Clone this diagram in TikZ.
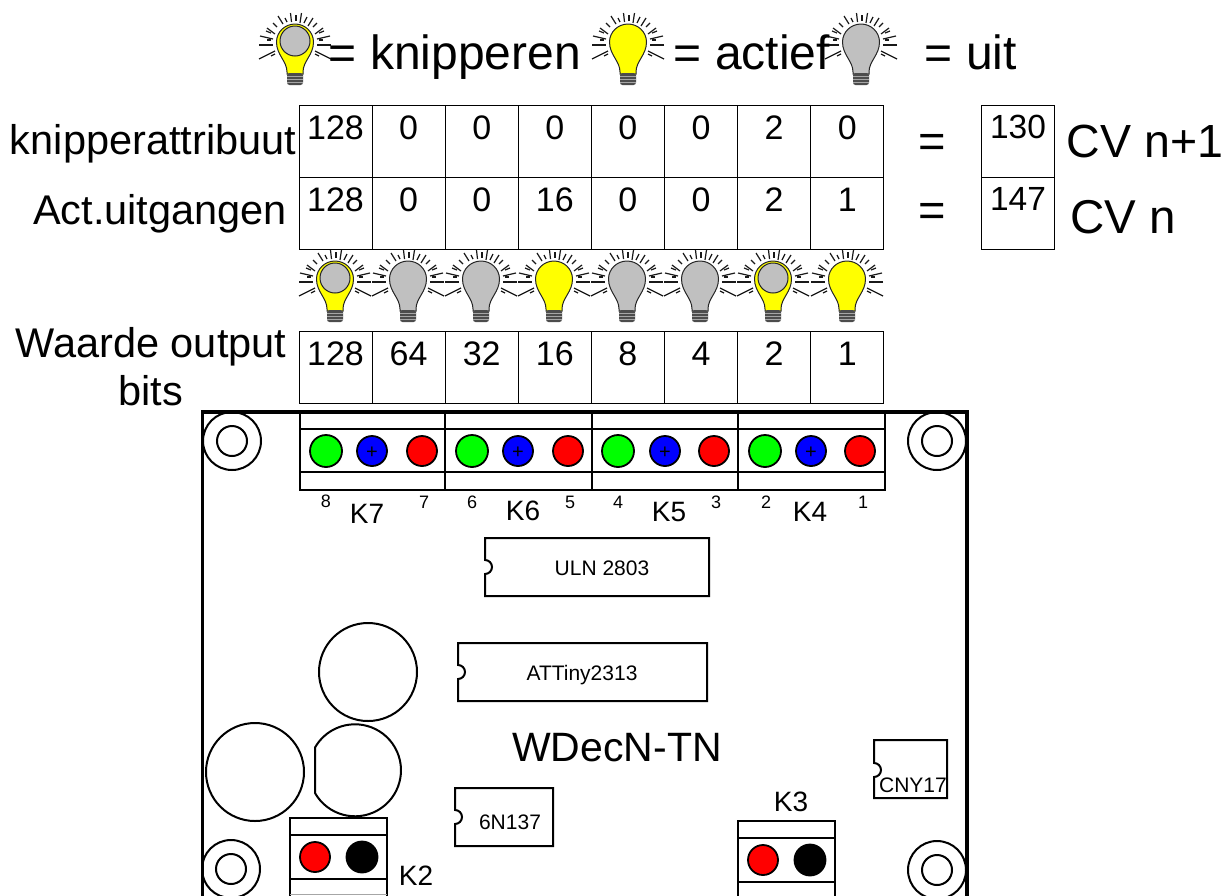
\documentclass[tikz,border=0pt]{standalone}
\usepackage{fontspec}
\setmainfont{Liberation Sans}
\newcommand{\fs}[1]{\fontsize{#1}{#1}\selectfont}
\tikzset{
  txt/.style={inner sep=0pt,anchor=base,text=black,font=\fs{#1}},
  cell/.style={draw=black,line width=0.9pt,minimum width=73pt,minimum height=72pt,inner sep=0pt},
  board/.style={line width=3.5pt,draw=black},
  thin part/.style={line width=2pt,draw=black},
  hole/.style={circle,draw=black,line width=2pt,inner sep=0pt,minimum size=#1},
  dot/.style={circle,draw=black,line width=1.8pt,inner sep=0pt,minimum size=29pt,fill=#1},
}
% bulb: center x, center y, bulb colour, head colour mode
\newcommand{\bulb}[4]{%
\begin{scope}[shift={(#1,#2)}]
  \foreach \xa/\ya/\xb/\yb in {
    -36/16/-20/8, -36/2/-22/2, -35/-7/-22/-4, -28/-15/-20/-9, -17/-27/-12/-19, -4.5/-30/-3.5/-21,
    6.5/-30/5/-20, 18/-25/13/-17, 28/-15/20/-9, 35/-7/22/-4, 36/2/22/2, 36/16/20/8}
    {\draw[line width=1.2pt,black!90] (\xa,\ya) -- (\xb,\yb);}
  \foreach \xa/\ya/\xb/\yb in {
    -24/13/-20/11, -28/-3/-24/-3, -29/-12/-24/-10, -22/-20/-18/-16, -10/-25/-8/-21, 1/-28/1/-22,
    12/-26/9/-20, 22/-20/18/-16, 29/-12/24/-10, 28/-3/24/-3, 24/13/20/11}
    {\draw[line width=1.2pt,black!90] (\xa,\ya) -- (\xb,\yb);}
  \draw[line width=1pt,black!85,fill=#3] (-8,31) -- (-8,29) .. controls (-8,18) and (-18.5,12) .. (-18.5,-1)
     .. controls (-18.5,-11) and (-10,-19) .. (0,-19) .. controls (10,-19) and (18.5,-11) .. (18.5,-1)
     .. controls (18.5,12) and (8,18) .. (8,29) -- (8,31) -- cycle;
  \ifx#4y
    \draw[line width=1pt,black!85,fill=bulbgray] (0,-2) circle (15);
  \fi
  \fill[black!70,rounded corners=2.5pt] (-8,30) -- (-8,42) -- (8,42) -- (8,30) -- cycle;
  \foreach \yy in {33,36,39} {\draw[line width=0.7pt,black!35] (-8,\yy) -- (8,\yy);}
\end{scope}}
\definecolor{bulbgray}{RGB}{192,192,192}
\definecolor{bulbyel}{RGB}{255,255,0}
\definecolor{pgreen}{RGB}{0,255,0}
\definecolor{pblue}{RGB}{0,0,255}
\definecolor{pred}{RGB}{255,0,0}
\begin{document}
\begin{tikzpicture}[x=1pt,y=-1pt]
\useasboundingbox (0,0) rectangle (1223,895);
\fill[white] (0,0) rectangle (1223,895);
% legend
\bulb{295}{43}{bulbyel}{y}
\bulb{628}{43}{bulbyel}{n}
\bulb{861}{43}{bulbgray}{n}
\node[txt=48] (lg1) at (455,69) {= knipperen};
\node[txt=48] (lg2) at (752,69) {= actief};
\node[txt=48] (lg3) at (971,69) {= uit};
% row labels
\node[txt=41.5] (l1) at (153,154) {knipperattribuut};
\node[txt=41.5] (l2) at (160,224) {Act.uitgangen};
\node[txt=41.5] (l3) at (151,357) {Waarde output};
\node[txt=41.5] (l4) at (151,405) {bits};
% tables
\foreach \rowy/\base/\vals/\rr in {
   141/139/{128,0,0,0,0,0,2,0}/a,
   213/211/{128,0,0,16,0,0,2,1}/b,
   367/365/{128,64,32,16,8,4,2,1}/c}{
  \foreach \v [count=\i from 0] in \vals {
    \pgfmathsetmacro{\cx}{299+73.1*\i+36.5}
    \node[cell] (\rr\i) at (\cx,\rowy) {};
    \node[txt=34] at (\cx,\base) {\v};
  }
}
\node[txt=47] (eq1) at (932,157) {=};
\node[txt=47] (eq2) at (932,226) {=};
\node[cell] (r1) at (1018,141) {};
\node[cell] (r2) at (1018,213) {};
\node[txt=33.5] (v1) at (1018,138) {130};
\node[txt=33.5] (v2) at (1018,210) {147};
\node[txt=46.5] (cv1) at (1145,157) {CV n+1};
\node[txt=47.5] (cv2) at (1123,233) {CV n};
% row of bulbs
\bulb{335}{280}{bulbyel}{y}
\bulb{408}{280}{bulbgray}{n}
\bulb{481}{280}{bulbgray}{n}
\bulb{554}{280}{bulbyel}{n}
\bulb{627}{280}{bulbgray}{n}
\bulb{700}{280}{bulbgray}{n}
\bulb{773}{280}{bulbyel}{y}
\bulb{847}{280}{bulbyel}{n}
% board
\draw[board] (202.5,900) -- (202.5,412) -- (967,412) -- (967,900);
\foreach \x/\y/\n in {232/441/a,937/441/b,231/869/c,937/870/d}{
  \node[hole=58pt] (mo\n) at (\x,\y) {};
  \node[hole=30pt] (mi\n) at (\x,\y) {};
}
% top connectors
\foreach \x/\w in {300/145,445/147,592/146,738/147}{
  \draw[thin part] (\x,413) rectangle (\x+\w,490);
  \draw[thin part] (\x,429) -- (\x+\w,429);
  \draw[thin part] (\x,472) -- (\x+\w,472);
}
\foreach \g/\b/\r/\n in {326/372/422/7,472/518/568/6,618/665/714/5,765/811/860/4}{
  \node[dot=pgreen,minimum size=32pt] (g\n) at (\g,451) {};
  \node[dot=pblue,minimum size=30pt] (b\n) at (\b,451) {};
  \node[dot=pred,minimum size=30pt] (p\n) at (\r,451) {};
  \node[txt=20] at (\b,458) {+};
}
\foreach \t/\x in {8/326,7/424,6/472,5/570,4/618,3/716,2/766,1/863}{
  \node[txt=18] at (\x,\ifnum\t=8 507\else 508\fi) {\t};
}
\node[txt=28] (k7) at (367,523) {K7};
\node[txt=28] (k6) at (523,520) {K6};
\node[txt=28] (k5) at (669,521) {K5};
\node[txt=28] (k4) at (810,521) {K4};
% ICs
\draw[thin part] (485,538) -- (709,538) -- (709,596) -- (485,596) -- (485,574) arc (90:-90:7) -- cycle;
\draw[thin part] (458,643) -- (707,643) -- (707,701) -- (458,701) -- (458,679) arc (90:-90:7) -- cycle;
\draw[thin part] (455,788) -- (553,788) -- (553,846) -- (455,846) -- (455,824) arc (90:-90:7) -- cycle;
\draw[thin part] (874,740) -- (947,740) -- (947,798) -- (874,798) -- (874,777) arc (90:-90:7) -- cycle;
\node[txt=21] (u1) at (602,575) {ULN 2803};
\node[txt=21] (u2) at (582,680) {ATTiny2313};
\node[txt=21] (u3) at (510,829) {6N137};
\node[txt=21] (u4) at (913,792) {CNY17};
\node[txt=41] (title) at (617,761) {WDecN-TN};
% capacitors
\node[hole=98pt] (c1) at (368,672) {};
\node[hole=98pt] (c2) at (255,772) {};
\draw[thin part] (315,747) -- (315,793) arc (209.6:510.4:46 and -46);
% K2, K3
\foreach \x/\y/\n in {290/818/two,738/821/three}{
  \draw[thin part] (\x,900) -- (\x,\y) -- (\x+97,\y) -- (\x+97,900);
  \draw[thin part] (\x,\y+17) -- (\x+97,\y+17);
  \draw[thin part] (\x,\y+61) -- (\x+97,\y+61);
  \node[dot=pred,minimum size=30pt] (red\n) at (\x+25,\y+39) {};
  \node[dot=black,minimum size=31pt] (blk\n) at (\x+72,\y+39) {};
}
\draw[line width=1.5pt,black!35] (290,894.5) -- (387,894.5);
\node[txt=28] (k2) at (416,885) {K2};
\node[txt=28] (k3) at (791,811) {K3};
\end{tikzpicture}
\end{document}
